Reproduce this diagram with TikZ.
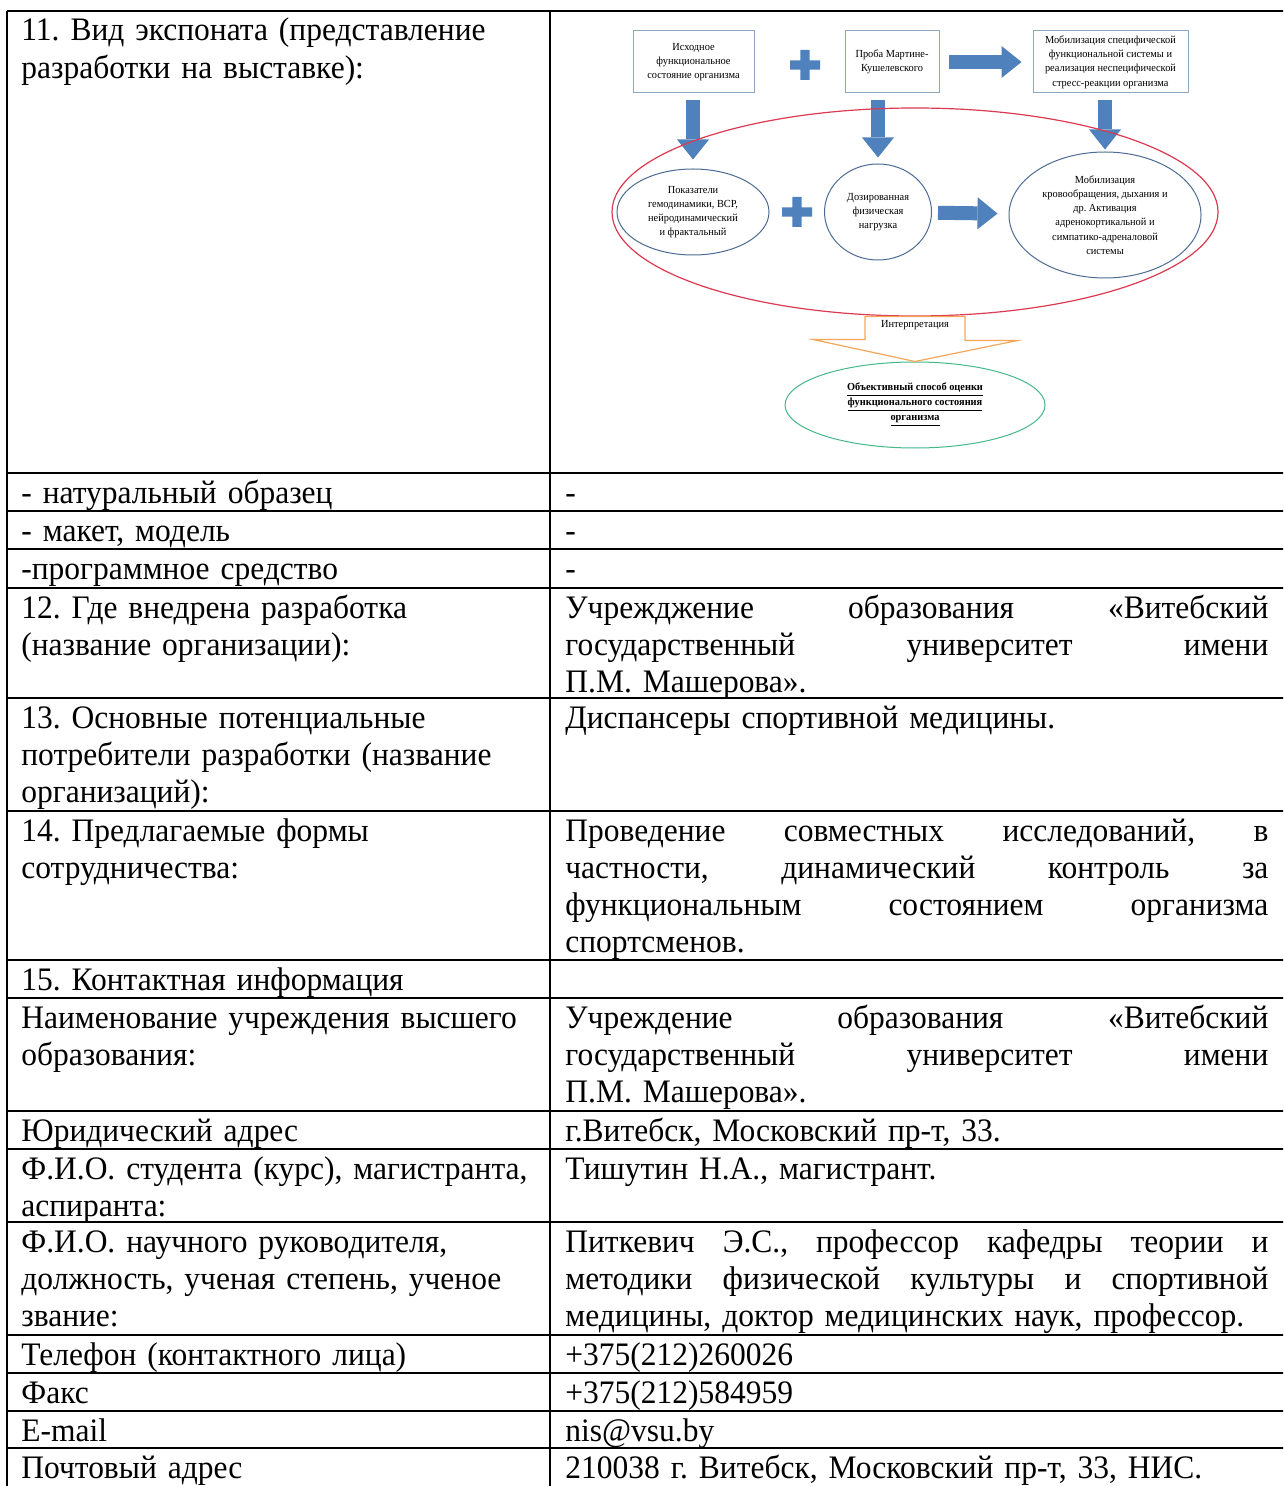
\documentclass[tikz,border=0pt]{standalone}
\usepackage{fontspec}
\setmainfont{Liberation Serif}[FakeStretch=0.96]
\usetikzlibrary{shapes.geometric,arrows.meta}
\hyphenpenalty=10000
\frenchspacing

\definecolor{arrowblue}{HTML}{4F81BD}
\definecolor{boxline}{HTML}{8FA6BE}
\definecolor{ovalline}{HTML}{4D6C94}
\definecolor{ringred}{HTML}{DC3A50}
\definecolor{interporange}{HTML}{F5A65B}
\definecolor{resgreen}{HTML}{45B88A}

\tikzset{
  rule/.style={line width=1.1pt},
  cell/.style={anchor=base west, inner sep=0pt, text width=#1, align=left,
    font=\fontsize{16.4}{18.65}\selectfont},
  cell/.default=300pt,
  tiny/.style={font=\fontsize{5.4}{7.1}\selectfont, align=center, inner sep=0pt},
  stage/.style={tiny, draw=boxline, line width=0.5pt, rectangle},
  oval/.style={tiny, draw=ovalline, line width=0.5pt, ellipse},
  blockarrow/.style={draw=arrowblue, line width=7pt,
    -{Triangle[width=16pt,length=10pt,line width=0pt]}},
  interp/.style={draw=interporange, line width=0.6pt, fill=white},
  plus/.pic={\fill[arrowblue] (-7.5pt,-2.3pt) rectangle (7.5pt,2.3pt)
    (-2.3pt,-7.5pt) rectangle (2.3pt,7.5pt);}
}

\begin{document}
\begin{tikzpicture}[x=0.5pt,y=-0.5pt]
\useasboundingbox (0,0) rectangle (1283,1486);
\fill[white] (0,0) rectangle (1283,1486);
\clip (0,0) rectangle (1283,1486);

% table
\draw[rule] (7,11) -- (1290,11) (7,473) -- (1290,473) (7,511) -- (1290,511)
  (7,549) -- (1290,549) (7,588) -- (1290,588) (7,698) -- (1290,698)
  (7,811) -- (1290,811) (7,960) -- (1290,960) (7,998) -- (1290,998)
  (7,1111) -- (1290,1111) (7,1149) -- (1290,1149) (7,1222) -- (1290,1222)
  (7,1335) -- (1290,1335) (7,1373) -- (1290,1373) (7,1411) -- (1290,1411)
  (7,1448) -- (1290,1448);
\draw[rule] (7,11) -- (7,1490) (550,11) -- (550,1490) (1286,11) -- (1286,1490);

\node[cell] (lexhibit) at (21,41) {11. Вид экспоната (представление\\разработки на выставке):};
\node[cell] (lnatural) at (21,503) {- натуральный образец};
\node[cell] (lmodel) at (21,541) {- макет, модель};
\node[cell] (lsoft) at (21,579) {-программное средство};
\node[cell] (limpl) at (21,618) {12. Где внедрена разработка\\(название организации):};
\node[cell] (lcons) at (21,728) {13. Основные потенциальные\\потребители разработки (название\\организаций):};
\node[cell] (lcoop) at (21,841) {14. Предлагаемые формы\\сотрудничества:};
\node[cell] (lcontact) at (21,990) {15. Контактная информация};
\node[cell] (luniv) at (21,1028) {Наименование учреждения высшего\\образования:};
\node[cell] (laddr) at (21,1141) {Юридический адрес};
\node[cell] (lstud) at (21,1179) {Ф.И.О. студента (курс), магистранта,\\аспиранта:};
\node[cell] (lsuper) at (21,1252) {Ф.И.О. научного руководителя,\\должность, ученая степень, ученое\\звание:};
\node[cell] (lphone) at (21,1365) {Телефон (контактного лица)};
\node[cell] (lfax) at (21,1403) {Факс};
\node[cell] (lmail) at (21,1441) {E-mail};
\node[cell] (lpost) at (21,1478) {Почтовый адрес};

\node[cell=351.5pt] (rnatural) at (565,503) {-};
\node[cell=351.5pt] (rmodel) at (565,541) {-};
\node[cell=351.5pt] (rsoft) at (565,579) {-};
\node[cell=351.5pt] (rimpl) at (565,618) {Учрежджение\hfill образования\hfill «Витебский\\государственный\hfill университет\hfill имени\\П.М. Машерова».};
\node[cell=351.5pt] (rcons) at (565,728) {Диспансеры спортивной медицины.};
\node[cell=351.5pt] (rcoop) at (565,841) {Проведение\hfill совместных\hfill исследований,\hfill в\\частности,\hfill динамический\hfill контроль\hfill за\\функциональным\hfill состоянием\hfill организма\\спортсменов.};
\node[cell=351.5pt] (runiv) at (565,1028) {Учреждение\hfill образования\hfill «Витебский\\государственный\hfill университет\hfill имени\\П.М. Машерова».};
\node[cell=351.5pt] (raddr) at (565,1141) {г.Витебск, Московский пр-т, 33.};
\node[cell=351.5pt] (rstud) at (565,1179) {Тишутин Н.А., магистрант.};
\node[cell=351.5pt] (rsuper) at (565,1252) {Питкевич\hfill Э.С.,\hfill профессор\hfill кафедры\hfill теории\hfill и\\методики\hfill физической\hfill культуры\hfill и\hfill спортивной\\\mbox{медицины, доктор медицинских наук, профессор.}};
\node[cell=351.5pt] (rphone) at (565,1365) {+375(212)260026};
\node[cell=351.5pt] (rfax) at (565,1403) {+375(212)584959};
\node[cell=351.5pt] (rmail) at (565,1441) {nis@vsu.by};
\node[cell=351.5pt] (rpost) at (565,1478) {210038 г. Витебск, Московский пр-т, 33, НИС.};

% scheme
\node[stage, minimum width=60.5pt, minimum height=31pt] (start) at (693.5,62) {Исходное\\функциональное\\состояние организма};
\node[stage, minimum width=47pt, minimum height=31pt] (probe) at (892,62) {Проба Мартине-\\Кушелевского};
\node[stage, minimum width=77.5pt, minimum height=31pt] (mobspec) at (1110.5,62) {Мобилизация специфической\\функциональной системы и\\реализация неспецифической\\стресс-реакции организма};
\node[oval, minimum width=76pt, minimum height=43pt] (indic) at (693,212) {Показатели\\гемодинамики, ВСР,\\нейродинамический\\и фрактальный};
\node[oval, minimum width=53.5pt, minimum height=48pt] (load) at (878,212) {Дозированная\\физическая\\нагрузка};
\node[oval, minimum width=96pt, minimum height=63pt] (mobsys) at (1105,215) {Мобилизация\\кровообращения, дыхания и\\др. Активация\\адренокортикальной и\\симпатико-адреналовой\\системы};
\node[oval, draw=resgreen, minimum width=130pt, minimum height=43pt,
  font=\fontsize{5.4}{7.5}\selectfont\bfseries] (result) at (915,405)
  {\underline{Объективный способ оценки}\\\underline{функционального состояния}\\\underline{организма}};

\pic at (805,65) {plus};
\pic at (797,212) {plus};

\draw[blockarrow, shorten <=4.5pt, shorten >=5.5pt] (probe) -- (mobspec);
\draw[blockarrow, shorten <=3pt, shorten >=5.5pt] (load) -- (mobsys);
\draw[blockarrow, shorten <=3.5pt, shorten >=4.5pt] (indic.north |- start.south) -- (indic.north);
\draw[blockarrow, shorten <=3.5pt, shorten >=3pt] (load.north |- probe.south) -- (load.north);
\draw[blockarrow, shorten <=3.5pt, shorten >=1pt] (mobsys.north |- mobspec.south) -- (mobsys.north);

\node[draw=ringred, line width=0.6pt, ellipse, minimum width=303pt, minimum height=104pt] (ring) at (915,212) {};

\draw[interp] ([xshift=-25pt]ring.south) -- ++(100,0) -- ++(0,24) -- ++(52,0)
  -- (result.north) -- ++(-102,-22) -- ++(52,0) -- cycle;
\node[tiny] (interplabel) at (915,325) {Интерпретация};
\end{tikzpicture}
\end{document}
